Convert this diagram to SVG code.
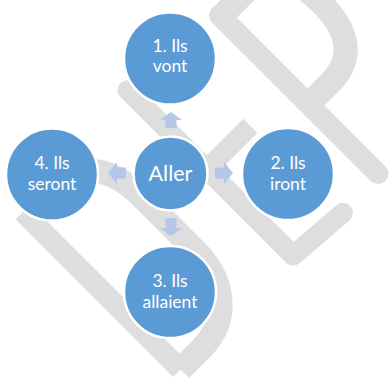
<svg xmlns="http://www.w3.org/2000/svg" width="390" height="379" viewBox="0 0 390 379">
  <style>
    .wm { fill: none; stroke: #dedede; stroke-linejoin: round; }
    .node circle { fill: #5b9bd5; stroke: #ffffff; stroke-width: 2.5; }
    .node text { fill: #ffffff; font-family: Lato, "Open Sans", sans-serif; font-size: 17.5px; text-anchor: middle; }
    .arrow { fill: #b4c7e7; }
  </style>
  <rect width="390" height="379" fill="#ffffff"/>
  <g id="watermark" transform="rotate(-45)">
    <path class="wm" stroke-width="21" d="M -133.6,166 V 389"/>
    <path class="wm" stroke-width="24" d="M -133.6,166 H -105 C -60,166 -39,195 -39,240 V 315 C -39,360 -65,389 -105,389 H -133.6"/>
    <path class="wm" stroke-width="20" stroke-linecap="round" d="M 26.5,154 V 388 L 92,393"/>
    <path class="wm" stroke-width="20" d="M 0,266 H 88"/>
    <path class="wm" stroke-width="21" stroke-linecap="round" d="M 144.5,166 V 390"/>
    <path class="wm" stroke-width="24" d="M 144.5,168 H 175 C 215,168 225,195 225,230 C 225,265 212,292 175,292 H 144.5"/>
  </g>
  <g id="node-top" class="node">
    <circle cx="170" cy="58.5" r="46"/>
    <text x="170" y="52">1. Ils</text>
    <text x="170" y="72">vont</text>
  </g>
  <g id="node-right" class="node">
    <circle cx="288" cy="174" r="46"/>
    <text x="288" y="168.5">2. Ils</text>
    <text x="288" y="190">iront</text>
  </g>
  <g id="node-bottom" class="node">
    <circle cx="170" cy="292" r="46"/>
    <text x="170" y="287">3. Ils</text>
    <text x="170" y="308">allaient</text>
  </g>
  <g id="node-left" class="node">
    <circle cx="52" cy="174.5" r="46"/>
    <text x="52" y="169">4. Ils</text>
    <text x="52" y="190">seront</text>
  </g>
  <g id="node-center" class="node">
    <circle cx="170.5" cy="173.5" r="37"/>
    <text x="170.5" y="180.5" style="font-size:21.5px">Aller</text>
  </g>
  <g id="connectors">
    <polygon class="arrow" points="171,112 182,120 176.5,120 176.5,128 165.5,128 165.5,120 160,120"/>
    <polygon class="arrow" points="233,173 224,162 224,167.5 215,167.5 215,178.5 224,178.5 224,184"/>
    <polygon class="arrow" points="171,236 182,228 176.5,228 176.5,218 165.5,218 165.5,228 160,228"/>
    <polygon class="arrow" points="108,173 117,162 117,167.5 126,167.5 126,178.5 117,178.5 117,184"/>
  </g>
</svg>
